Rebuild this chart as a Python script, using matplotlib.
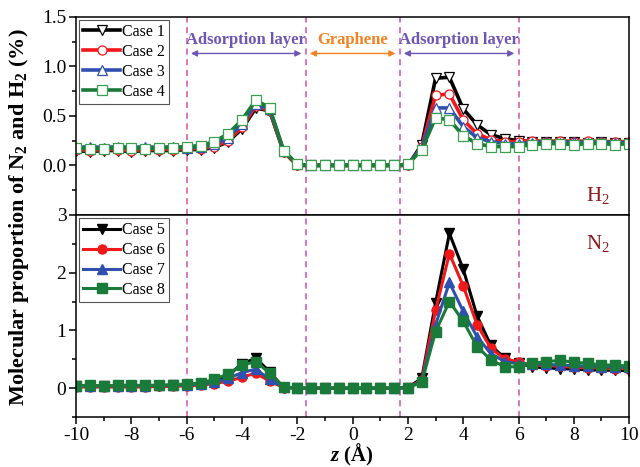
import matplotlib
matplotlib.use("Agg")
import matplotlib.pyplot as plt
import numpy as np

plt.rcParams["font.family"] = ["Liberation Serif", "DejaVu Serif"]
plt.rcParams["mathtext.fontset"] = "custom"
plt.rcParams["mathtext.rm"] = "Liberation Serif"
plt.rcParams["mathtext.it"] = "Liberation Serif:italic:bold"
plt.rcParams["mathtext.bf"] = "Liberation Serif:bold"

# z positions (Angstrom), 0.5 step
z = np.arange(-10, 10.01, 0.5)

# H2 proportion (%)
h2_case1 = [0.15, 0.14, 0.15, 0.15, 0.14, 0.15, 0.15, 0.15, 0.16, 0.16, 0.18, 0.24, 0.37, 0.58, 0.55, 0.14, 0.0,
            0.0, 0.0, 0.0, 0.0, 0.0, 0.0, 0.0, 0.0, 0.21, 0.88, 0.89, 0.57, 0.41, 0.31, 0.27, 0.25, 0.24, 0.24,
            0.24, 0.24, 0.23, 0.24, 0.23, 0.23]
h2_case2 = [0.16, 0.15, 0.16, 0.16, 0.15, 0.16, 0.16, 0.16, 0.17, 0.17, 0.19, 0.25, 0.39, 0.60, 0.55, 0.14, 0.0,
            0.0, 0.0, 0.0, 0.0, 0.0, 0.0, 0.0, 0.0, 0.19, 0.71, 0.72, 0.46, 0.32, 0.26, 0.24, 0.24, 0.25, 0.24,
            0.25, 0.24, 0.25, 0.24, 0.24, 0.24]
h2_case3 = [0.18, 0.19, 0.18, 0.19, 0.18, 0.19, 0.18, 0.19, 0.18, 0.19, 0.22, 0.28, 0.42, 0.62, 0.57, 0.15, 0.01,
            0.0, 0.0, 0.0, 0.0, 0.0, 0.0, 0.0, 0.01, 0.18, 0.58, 0.58, 0.39, 0.28, 0.24, 0.22, 0.22, 0.23, 0.24,
            0.23, 0.24, 0.23, 0.24, 0.23, 0.23]
h2_case4 = [0.18, 0.17, 0.17, 0.18, 0.18, 0.17, 0.18, 0.18, 0.19, 0.20, 0.24, 0.32, 0.46, 0.66, 0.58, 0.15, 0.01,
            0.0, 0.0, 0.0, 0.0, 0.0, 0.0, 0.0, 0.01, 0.16, 0.48, 0.46, 0.30, 0.22, 0.19, 0.19, 0.19, 0.21, 0.22,
            0.22, 0.21, 0.22, 0.22, 0.21, 0.22]

# N2 proportion (%)
n2_case5 = [0.03, 0.03, 0.03, 0.03, 0.03, 0.03, 0.04, 0.05, 0.06, 0.08, 0.12, 0.22, 0.42, 0.52, 0.28, 0.01, 0.0,
            0.0, 0.0, 0.0, 0.0, 0.0, 0.0, 0.0, 0.01, 0.17, 1.48, 2.68, 2.06, 1.25, 0.74, 0.52, 0.43, 0.37, 0.35,
            0.34, 0.33, 0.32, 0.31, 0.31, 0.30]
n2_case6 = [0.02, 0.02, 0.02, 0.02, 0.02, 0.02, 0.03, 0.03, 0.04, 0.05, 0.08, 0.12, 0.19, 0.26, 0.12, 0.01, 0.0,
            0.0, 0.0, 0.0, 0.0, 0.0, 0.0, 0.0, 0.01, 0.14, 1.35, 2.33, 1.77, 1.10, 0.69, 0.51, 0.45, 0.40, 0.39,
            0.38, 0.36, 0.35, 0.35, 0.34, 0.34]
n2_case7 = [0.04, 0.04, 0.04, 0.04, 0.04, 0.04, 0.05, 0.05, 0.06, 0.07, 0.10, 0.17, 0.27, 0.33, 0.15, 0.02, 0.0,
            0.0, 0.0, 0.0, 0.0, 0.0, 0.0, 0.0, 0.01, 0.12, 1.10, 1.83, 1.33, 0.89, 0.60, 0.46, 0.42, 0.42, 0.41,
            0.40, 0.39, 0.38, 0.37, 0.37, 0.36]
n2_case8 = [0.04, 0.05, 0.04, 0.05, 0.05, 0.05, 0.05, 0.06, 0.07, 0.09, 0.15, 0.25, 0.40, 0.46, 0.26, 0.02, 0.0,
            0.0, 0.0, 0.0, 0.0, 0.0, 0.0, 0.0, 0.01, 0.10, 0.98, 1.50, 1.16, 0.72, 0.49, 0.37, 0.37, 0.43, 0.46,
            0.48, 0.45, 0.43, 0.40, 0.40, 0.38]

h2_series = [h2_case1, h2_case2, h2_case3, h2_case4]
n2_series = [n2_case5, n2_case6, n2_case7, n2_case8]
h2_labels = ["Case 1", "Case 2", "Case 3", "Case 4"]
n2_labels = ["Case 5", "Case 6", "Case 7", "Case 8"]
colors = ["#000000", "#f01818", "#3050b0", "#1a7a3a"]
markers = ["v", "o", "^", "s"]

layer_edges = [-6, -1.7, 1.7, 6]
dash_color = "#d050b0"
purple = "#6f55b5"
orange = "#f58220"
label_red = "#8b1a1a"

fig = plt.figure(figsize=(6.4, 4.67), dpi=100)
gs = fig.add_gridspec(2, 1, height_ratios=[198, 202], hspace=0,
                      left=0.119, right=0.983, top=0.964, bottom=0.107)
ax1 = fig.add_subplot(gs[0])
ax2 = fig.add_subplot(gs[1], sharex=ax1)

for ys, lab, c, m in zip(h2_series, h2_labels, colors, markers):
    ax1.plot(z, ys, color=c, lw=2.6, marker=m, ms=6.5, mfc="white",
             mec=c if c != "#1a7a3a" else "#3aa050", mew=0.9, label=lab)

for ys, lab, c, m in zip(n2_series, n2_labels, colors, markers):
    ax2.plot(z, ys, color=c, lw=2.2, marker=m, ms=6.5, mfc=c, mec=c, label=lab)

for ax in (ax1, ax2):
    for xe in layer_edges:
        ax.axvline(xe, color=dash_color, lw=1.1, ls=(0, (4, 3)), zorder=0)
    ax.set_xlim(-10, 10)
    ax.tick_params(which="both", direction="out", top=False, right=False, labelsize=14, pad=2)
    ax.tick_params(which="major", length=5, width=1.1)
    ax.tick_params(which="minor", length=3, width=1.1)
    for s in ax.spines.values():
        s.set_linewidth(1.1)

ax1.set_ylim(-0.5, 1.5)
ax1.set_yticks([0.0, 0.5, 1.0, 1.5])
ax1.set_yticks([-0.25, 0.25, 0.75, 1.25], minor=True)
ax1.tick_params(axis="x", which="both", bottom=False, labelbottom=False)

ax2.set_ylim(-0.5, 3)
ax2.set_yticks([0, 1, 2, 3])
ax2.set_yticks([-0.5, 0.5, 1.5, 2.5], minor=True)
ax2.set_xticks(np.arange(-10, 11, 2))
ax2.set_xticks(np.arange(-9, 10, 2), minor=True)
ax2.set_xticklabels([str(v) for v in range(-10, 11, 2)])

leg_kw = dict(loc="upper left", fontsize=11.5, frameon=True, fancybox=False, edgecolor="#555555",
              handlelength=2.3, handletextpad=0.1, borderpad=0.25, labelspacing=0.25,
              borderaxespad=0.2, framealpha=1)
l1 = ax1.legend(**leg_kw)
l2 = ax2.legend(**leg_kw)
for l in (l1, l2):
    l.get_frame().set_linewidth(0.8)

# region annotations
arrow_y = 1.13
text_y = 1.27
regions = [(-6, -1.7, "Adsorption layer", purple),
           (-1.7, 1.7, "Graphene", orange),
           (1.7, 6, "Adsorption layer", purple)]
for x0, x1, txt, c in regions:
    ax1.annotate("", xy=(x0 + 0.15, arrow_y), xytext=(x1 - 0.15, arrow_y),
                 arrowprops=dict(arrowstyle="<|-|>", color=c, lw=1.0, mutation_scale=9,
                                 shrinkA=0, shrinkB=0))
    ax1.text((x0 + x1) / 2, text_y, txt, color=c, fontsize=12, fontweight="bold",
             ha="center", va="center")

ax1.text(0.965, 0.1, r"H$_2$", transform=ax1.transAxes, color=label_red, fontsize=15,
         ha="right", va="center")
ax2.text(0.965, 0.86, r"N$_2$", transform=ax2.transAxes, color=label_red, fontsize=15,
         ha="right", va="center")

fig.text(0.03, 0.535, r"Molecular proportion of N$_\mathbf{2}$ and H$_\mathbf{2}$ (%)",
         rotation=90, ha="center", va="center", fontsize=16, fontweight="bold")
fig.text(0.55, 0.025, r"$z$ (Å)", fontsize=15, fontweight="bold",
         ha="center", va="center")

fig.savefig("out.png", dpi=100)
